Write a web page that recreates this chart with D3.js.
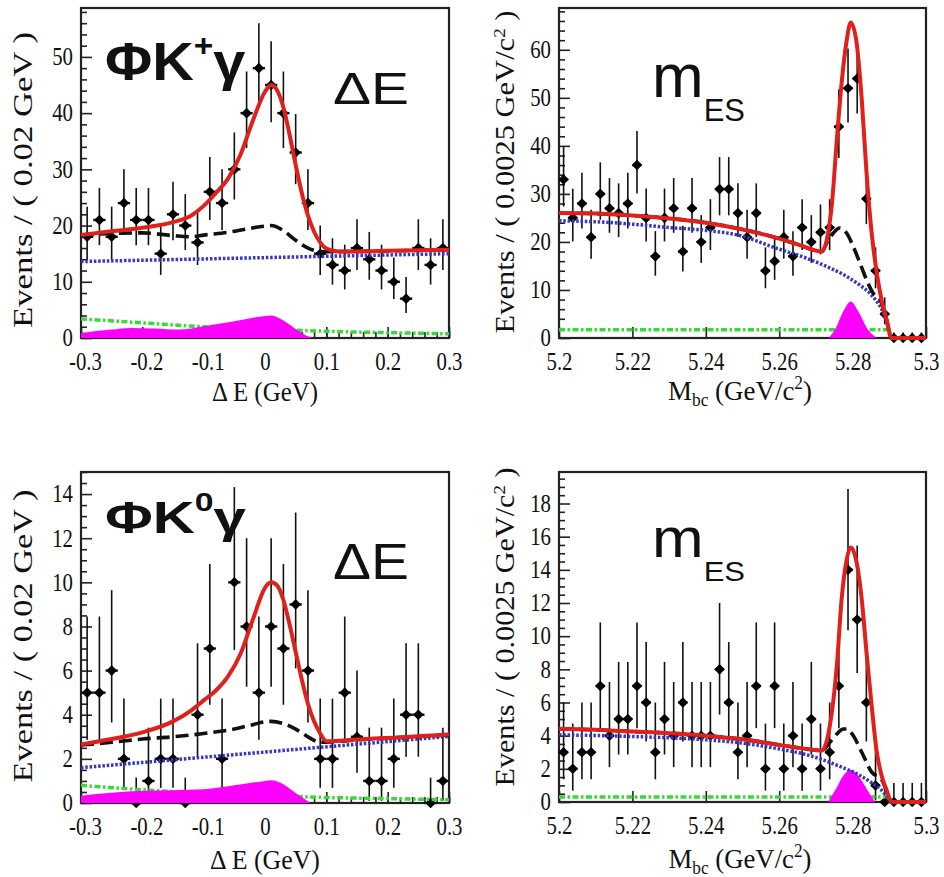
<!DOCTYPE html>
<html>
<head>
<meta charset="utf-8">
<script src="https://cdn.jsdelivr.net/npm/d3@7"></script>
<style>
  body { margin: 0; background: #fff; }
  svg text { fill: #111; }
</style>
</head>
<body>
<svg id="chart" width="944" height="877"></svg>
<script>
// ---------- Data: ΔE bins (0.02 GeV) ----------
const deCenters = [-0.29,-0.27,-0.25,-0.23,-0.21,-0.19,-0.17,-0.15,-0.13,-0.11,-0.09,-0.07,-0.05,-0.03,-0.01,
                   0.01,0.03,0.05,0.07,0.09,0.11,0.13,0.15,0.17,0.19,0.21,0.23,0.25,0.27,0.29];
const dePlusCounts = [18,21,18,24,21,21,15,22,20,17,26,24,30,40,48,45,40,33,24,15,13,12,16,14,12,10,7,16,13,16];
const deZeroCounts = [5,5,6,2,0,1,2,2,0,4,7,2,10,8,5,8,7,9,6,2,2,5,3,1,1,2,4,4,0,1];

// ---------- Data: mES bins (0.0025 GeV/c2) ----------
const mesCenters = [5.20125,5.20375,5.20625,5.20875,5.21125,5.21375,5.21625,5.21875,5.22125,5.22375,
                    5.22625,5.22875,5.23125,5.23375,5.23625,5.23875,5.24125,5.24375,5.24625,5.24875,
                    5.25125,5.25375,5.25625,5.25875,5.26125,5.26375,5.26625,5.26875,5.27125,5.27375,
                    5.27625,5.27875,5.28125,5.28375,5.28625,5.28875,5.29125,5.29375,5.29625,5.29875];
const mesPlusCounts = [33,25,28,21,30,27,26,28,36,25,17,25,27,18,27,20,23,31,31,26,
                       21,26,14,16,21,17,23,20,22,23,44,52,54,29,14,5,0,0,0,0];
const mesZeroCounts = [3,2,3,3,7,4,5,5,7,6,3,5,4,6,4,4,4,8,6,3,
                       4,7,2,7,2,4,2,5,2,3,7,14,11,6,1,0,0,0,0,0];

// ---------- Fit curves: [x, events] ----------
// ΦK+γ, ΔE
const dePlusTotal = [[-0.3,18.3],[-0.25,19.0],[-0.2,19.6],[-0.15,20.6],[-0.12,21.8],[-0.1,23.5],[-0.08,25.8],
  [-0.06,28.4],[-0.04,32.6],[-0.02,38.6],[0,43.8],[0.01,45.0],[0.02,44.0],[0.03,41.0],[0.04,36.2],[0.05,30.8],
  [0.06,25.8],[0.07,21.8],[0.08,18.9],[0.09,17.0],[0.1,15.9],[0.12,15.4],[0.15,15.4],[0.2,15.5],[0.25,15.6],[0.3,15.7]];
const dePlusBkg = [[-0.3,18.3],[-0.25,18.6],[-0.2,18.7],[-0.15,18.2],[-0.12,18.0],[-0.1,18.3],[-0.06,18.8],
  [-0.03,19.4],[0,19.9],[0.01,20.0],[0.03,19.1],[0.05,17.4],[0.07,16.0],[0.09,15.4],[0.1,15.35],[0.15,15.4],
  [0.2,15.5],[0.25,15.6],[0.3,15.7]];
const dePlusCont = [[-0.3,13.6],[0.3,15.0]];
const dePlusGeneric = [[-0.3,3.4],[-0.2,2.7],[-0.1,2.0],[0,1.6],[0.1,1.2],[0.2,0.95],[0.3,0.75]];
const dePlusPeaking = [[-0.3,0.9],[-0.25,1.5],[-0.22,1.8],[-0.18,1.7],[-0.14,1.5],[-0.1,2.1],[-0.05,3.0],
  [0,3.9],[0.01,4.0],[0.03,3.1],[0.05,1.6],[0.07,0.3],[0.08,0],[0.3,0]];

// ΦK+γ, mES
const mesPlusTotal = [[5.2,26.0],[5.21,25.9],[5.22,25.5],[5.23,24.9],[5.24,24.0],[5.25,22.6],[5.26,20.7],
  [5.265,19.5],[5.2716,18.0],[5.2743,27.4],[5.2757,41.2],[5.277,53.0],[5.2784,62.0],[5.2795,65.7],
  [5.2811,61.4],[5.2825,49.6],[5.2838,34.4],[5.2852,21.8],[5.2866,13.5],[5.2879,7.9],[5.2893,3.75],
  [5.2906,0],[5.3,0]];
const mesPlusBkg = [[5.2,26.0],[5.21,25.9],[5.22,25.5],[5.23,24.9],[5.24,24.0],[5.25,22.6],[5.26,20.7],
  [5.265,19.5],[5.2716,18.0],[5.2729,19.7],[5.2747,21.8],[5.2765,22.9],[5.2784,21.8],[5.2802,19.0],
  [5.282,15.6],[5.2838,12.1],[5.2856,9.3],[5.2877,7.6],[5.2893,3.6],[5.2906,0],[5.3,0]];
const mesPlusCont = [[5.2,24.4],[5.21,24.2],[5.22,23.7],[5.23,23.0],[5.24,22.4],[5.25,21.2],[5.2584,18.9],
  [5.2675,16.6],[5.2729,14.9],[5.2784,12.8],[5.282,11.0],[5.2847,9.3],[5.2866,7.6],[5.2884,5.2],
  [5.2897,2.1],[5.2903,0]];
const mesPlusGeneric = [[5.2,1.7],[5.29,1.7]];
const mesPlusPeaking = [[5.2735,0],[5.2755,2.2],[5.2775,5.6],[5.2795,7.6],[5.2815,5.6],[5.2838,2.2],[5.2866,0]];

// ΦK0γ, ΔE
const deZeroTotal = [[-0.3,2.65],[-0.25,2.9],[-0.2,3.2],[-0.15,3.7],[-0.12,4.2],[-0.1,4.65],[-0.08,5.1],
  [-0.06,5.75],[-0.04,6.75],[-0.02,8.3],[0,9.75],[0.01,10.0],[0.02,9.85],[0.03,9.2],[0.04,8.1],[0.05,6.85],
  [0.06,5.6],[0.07,4.5],[0.08,3.7],[0.09,3.15],[0.1,2.8],[0.15,2.88],[0.2,2.95],[0.25,3.02],[0.3,3.1]];
const deZeroBkg = [[-0.3,2.63],[-0.25,2.75],[-0.2,2.9],[-0.15,3.0],[-0.1,3.15],[-0.05,3.35],[-0.02,3.55],
  [0,3.68],[0.01,3.7],[0.03,3.6],[0.05,3.35],[0.07,3.0],[0.09,2.75],[0.1,2.76],[0.15,2.86],[0.2,2.94],
  [0.25,3.01],[0.3,3.08]];
const deZeroCont = [[-0.3,1.6],[0.3,3.02]];
const deZeroGeneric = [[-0.3,0.8],[-0.2,0.6],[-0.1,0.45],[0,0.35],[0.1,0.25],[0.2,0.2],[0.3,0.15]];
const deZeroPeaking = [[-0.3,0.33],[-0.2,0.55],[-0.15,0.58],[-0.1,0.62],[-0.05,0.8],[0,1.0],[0.01,1.03],
  [0.03,0.85],[0.05,0.45],[0.07,0.08],[0.075,0],[0.3,0]];

// ΦK0γ, mES
const mesZeroTotal = [[5.2,4.42],[5.21,4.35],[5.22,4.25],[5.23,4.15],[5.24,4.0],[5.25,3.78],[5.2584,3.5],
  [5.2675,3.2],[5.2716,3.1],[5.2738,4.6],[5.2757,8.2],[5.277,12.2],[5.2784,14.65],[5.2795,15.35],
  [5.2811,14.45],[5.2825,12.2],[5.2838,9.0],[5.2852,5.8],[5.2866,3.0],[5.2879,1.6],[5.2893,0.7],
  [5.2906,0],[5.3,0]];
const mesZeroBkg = [[5.2,4.42],[5.21,4.35],[5.22,4.25],[5.23,4.15],[5.24,4.0],[5.25,3.78],[5.2584,3.5],
  [5.2675,3.2],[5.2716,3.1],[5.2738,3.6],[5.2757,4.1],[5.2775,4.4],[5.2784,4.4],[5.2802,4.0],[5.2825,3.0],
  [5.2852,1.8],[5.2879,1.35],[5.2893,0.65],[5.2906,0],[5.3,0]];
const mesZeroCont = [[5.2,4.05],[5.22,3.95],[5.24,3.75],[5.25,3.55],[5.26,3.2],[5.2675,2.85],[5.2765,2.15],
  [5.282,1.6],[5.2856,1.1],[5.2875,0.8],[5.2893,0.35],[5.2903,0]];
const mesZeroGeneric = [[5.2,0.3],[5.289,0.3]];
const mesZeroPeaking = [[5.2733,0],[5.2755,0.8],[5.2775,1.6],[5.2795,1.95],[5.2815,1.6],[5.2838,0.8],[5.2861,0]];

// ---------- Tick labels ----------
const deTicks = [-0.3,-0.2,-0.1,0,0.1,0.2,0.3];
const deTickLabels = ['-0.3','-0.2','-0.1','0','0.1','0.2','0.3'];
const mesTicks = [5.2,5.22,5.24,5.26,5.28,5.3];
const mesTickLabels = ['5.2','5.22','5.24','5.26','5.28','5.3'];
const yTicksDePlus = [0,10,20,30,40,50];
const yTicksMesPlus = [0,10,20,30,40,50,60];
const yTicksDeZero = [0,2,4,6,8,10,12,14];
const yTicksMesZero = [0,2,4,6,8,10,12,14,16,18];

// ---------- Poisson-style error bars ----------
const errUp = n => n === 0 ? 1.15 : Math.sqrt(n + 1) + 1;
const errDown = n => n === 0 ? 0 : Math.sqrt(n) - 0.1;

const svg = d3.select('#chart');
const SERIF = '"Liberation Serif", "Times New Roman", serif';
const SANS = '"Liberation Sans", Arial, sans-serif';
const SQX = 0.8; // horizontal squeeze seen in the reference text

const panels = [
  { box: [81, 449, 8, 338], xDomain: [-0.3, 0.3], yDomain: [0, 58.7], centers: deCenters, counts: dePlusCounts,
    half: 0.01, yTicks: yTicksDePlus, yMinor: 2, xTicks: deTicks, xLabels: deTickLabels, xMinor: 0.02,
    total: dePlusTotal, bkg: dePlusBkg, cont: dePlusCont, generic: dePlusGeneric, peaking: dePlusPeaking,
    ytitle: { cx: 23, cy: 180, len: 296, kind: 'de' },
    xtitle: { cx: 265, base: 401, len: 106, kind: 'de' } },
  { box: [559, 926, 8, 338], xDomain: [5.2, 5.3], yDomain: [0, 68.7], centers: mesCenters, counts: mesPlusCounts,
    half: 0.00125, yTicks: yTicksMesPlus, yMinor: 2, xTicks: mesTicks, xLabels: mesTickLabels, xMinor: null,
    total: mesPlusTotal, bkg: mesPlusBkg, cont: mesPlusCont, generic: mesPlusGeneric, peaking: mesPlusPeaking,
    ytitle: { cx: 505, cy: 172, len: 323, kind: 'mes' },
    xtitle: { cx: 740, base: 400, len: 144, kind: 'mes' } },
  { box: [81, 449, 472, 803], xDomain: [-0.3, 0.3], yDomain: [0, 15], centers: deCenters, counts: deZeroCounts,
    half: 0.01, yTicks: yTicksDeZero, yMinor: 0.5, xTicks: deTicks, xLabels: deTickLabels, xMinor: 0.02,
    total: deZeroTotal, bkg: deZeroBkg, cont: deZeroCont, generic: deZeroGeneric, peaking: deZeroPeaking,
    ytitle: { cx: 23, cy: 636, len: 293, kind: 'de' },
    xtitle: { cx: 265, base: 869, len: 110, kind: 'de' } },
  { box: [559, 926, 472, 802], xDomain: [5.2, 5.3], yDomain: [0, 19.9], centers: mesCenters, counts: mesZeroCounts,
    half: 0.00125, yTicks: yTicksMesZero, yMinor: 0.5, xTicks: mesTicks, xLabels: mesTickLabels, xMinor: null,
    total: mesZeroTotal, bkg: mesZeroBkg, cont: mesZeroCont, generic: mesZeroGeneric, peaking: mesZeroPeaking,
    ytitle: { cx: 505, cy: 627, len: 319, kind: 'mes' },
    xtitle: { cx: 740, base: 868, len: 143, kind: 'mes' } }
];

function yTitle(g, t) {
  const el = g.append('text').attr('text-anchor', 'middle').attr('dy', '0.35em')
    .style('font-family', SERIF).style('font-size', '32px');
  if (t.kind === 'de') {
    el.text('Events / ( 0.02 GeV )');
  } else {
    el.append('tspan').text('Events / ( 0.0025 GeV/c');
    el.append('tspan').attr('dy', -11).style('font-size', '20px').text('2');
    el.append('tspan').attr('dy', 11).text(' )');
  }
  const w = el.node().getBBox().width;
  el.attr('transform', `translate(${t.cx},${t.cy}) rotate(-90) scale(${t.len / w},0.83)`);
}

function xTitle(g, t) {
  const el = g.append('text').attr('text-anchor', 'middle')
    .style('font-family', SERIF).style('font-size', '28px');
  if (t.kind === 'de') {
    el.text('Δ E (GeV)');
  } else {
    el.append('tspan').text('M');
    el.append('tspan').attr('dy', 6).style('font-size', '18px').text('bc');
    el.append('tspan').attr('dy', -6).text(' (GeV/c');
    el.append('tspan').attr('dy', -11).style('font-size', '18px').text('2');
    el.append('tspan').attr('dy', 11).text(')');
  }
  const w = el.node().getBBox().width;
  el.attr('transform', `translate(${t.cx},${t.base}) scale(${t.len / w},1)`);
}

panels.forEach((p, i) => {
  const [L, R, T, B] = p.box;
  const x = d3.scaleLinear().domain(p.xDomain).range([L, R]);
  const y = d3.scaleLinear().domain(p.yDomain).range([B, T]);
  const g = svg.append('g');

  // ---- axes (ticks inside the frame) ----
  const yMinorVals = d3.range(0, p.yDomain[1] + 1e-9, p.yMinor).filter(v => !p.yTicks.includes(v));
  g.append('g').attr('transform', `translate(${L},0)`)
    .call(d3.axisLeft(y).tickValues(yMinorVals).tickSize(-6).tickFormat(''))
    .call(a => a.select('.domain').remove());
  const ya = g.append('g').attr('transform', `translate(${L},0)`)
    .call(d3.axisLeft(y).tickValues(p.yTicks).tickSize(-11).tickPadding(8).tickFormat(d3.format('d')))
    .call(a => a.select('.domain').remove());
  ya.selectAll('text').attr('x', -8 / SQX).attr('dy', '0.3em').attr('transform', `scale(${SQX},1)`)
    .style('font-family', SERIF).style('font-size', '26px');

  if (p.xMinor) {
    const xMinorVals = d3.range(p.xDomain[0], p.xDomain[1] + 1e-9, p.xMinor);
    g.append('g').attr('transform', `translate(0,${B})`)
      .call(d3.axisBottom(x).tickValues(xMinorVals).tickSize(-6).tickFormat(''))
      .call(a => a.select('.domain').remove());
  }
  const xa = g.append('g').attr('transform', `translate(0,${B})`)
    .call(d3.axisBottom(x).tickValues(p.xTicks).tickSize(-11).tickPadding(14).tickFormat((d, k) => p.xLabels[k]))
    .call(a => a.select('.domain').remove());
  // negative labels sit a little right of their tick, as in the reference
  xa.selectAll('text').attr('transform', `scale(${SQX},1)`)
    .attr('x', d => (d < 0 ? 4 / SQX : 0))
    .style('font-family', SERIF).style('font-size', '26px');
  g.selectAll('.tick line').attr('stroke', '#222').attr('stroke-width', 1.6);

  // ---- frame ----
  g.append('rect').attr('x', L).attr('y', T).attr('width', R - L).attr('height', B - T)
    .attr('fill', 'none').attr('stroke', '#222').attr('stroke-width', 2.2);

  // ---- data points with error bars ----
  const pts = g.append('g');
  p.centers.forEach((c, k) => {
    const n = p.counts[k];
    pts.append('line').attr('x1', x(c)).attr('x2', x(c))
      .attr('y1', y(n + errUp(n))).attr('y2', y(Math.max(0, n - errDown(n))))
      .attr('stroke', '#111').attr('stroke-width', 1.6);
    pts.append('line').attr('x1', x(c - p.half)).attr('x2', x(c + p.half))
      .attr('y1', y(n)).attr('y2', y(n)).attr('stroke', '#111').attr('stroke-width', 2.4);
    pts.append('path').attr('d', d3.symbol(d3.symbolSquare, 56)())
      .attr('transform', `translate(${x(c)},${y(n)}) rotate(45)`).attr('fill', '#000');
  });

  // ---- fit components ----
  const clipId = 'clip' + i;
  g.append('clipPath').attr('id', clipId).append('rect')
    .attr('x', L).attr('y', T).attr('width', R - L).attr('height', B - T + 3);
  const curves = g.append('g').attr('clip-path', `url(#${clipId})`);
  const line = d3.line().x(d => x(d[0])).y(d => y(d[1])).curve(d3.curveMonotoneX);
  const area = d3.area().x(d => x(d[0])).y0(y(0)).y1(d => y(d[1])).curve(d3.curveMonotoneX);

  curves.append('path').attr('d', line(p.generic)).attr('fill', 'none')
    .attr('stroke', '#3ad93a').attr('stroke-width', 3.5).attr('stroke-dasharray', '6 2.5 2.5 2.5');
  curves.append('path').attr('d', area(p.peaking)).attr('fill', '#ff00ff');
  curves.append('path').attr('d', line(p.cont)).attr('fill', 'none')
    .attr('stroke', '#3535c8').attr('stroke-width', 3.5).attr('stroke-dasharray', '2.5 1.8');
  curves.append('path').attr('d', line(p.bkg)).attr('fill', 'none')
    .attr('stroke', '#111').attr('stroke-width', 3.6).attr('stroke-dasharray', '13 6');
  curves.append('path').attr('d', line(p.total)).attr('fill', 'none')
    .attr('stroke', '#e0201c').attr('stroke-width', 4).attr('stroke-linejoin', 'round');

  // ---- titles ----
  yTitle(svg, p.ytitle);
  xTitle(svg, p.xtitle);
});

// ---------- Big overlay labels ----------
function fitWidth(el, x0, base, width) {
  const w = el.node().getBBox().width;
  el.attr('transform', `translate(${x0},${base}) scale(${width / w},1)`);
}
function decayLabel(sup, base, size, supShift) {
  const el = svg.append('text').style('font-family', SANS).style('font-weight', 'bold')
    .style('font-size', size + 'px');
  el.append('tspan').text('ΦK');
  el.append('tspan').attr('dy', -supShift).style('font-size', (size * 0.58) + 'px').text(sup);
  el.append('tspan').attr('dy', supShift).text('γ');
  fitWidth(el, 105, base, 141);
}
decayLabel('+', 80, 53, 24);
decayLabel('0', 533, 45, 22);

function deltaE(base, size) {
  const el = svg.append('text').style('font-family', SANS).style('font-size', size + 'px').text('ΔE');
  fitWidth(el, 333, base, 76);
}
deltaE(104, 44);
deltaE(579, 50);

function mES(base, size, sub) {
  const el = svg.append('text').style('font-family', SANS).style('font-size', size + 'px');
  el.append('tspan').text('m');
  el.append('tspan').attr('dy', sub).style('font-size', (size * 0.5) + 'px').text('ES');
  fitWidth(el, 652, base, 93);
}
mES(97, 61, 24);
mES(557, 56, 24);
</script>
</body>
</html>
